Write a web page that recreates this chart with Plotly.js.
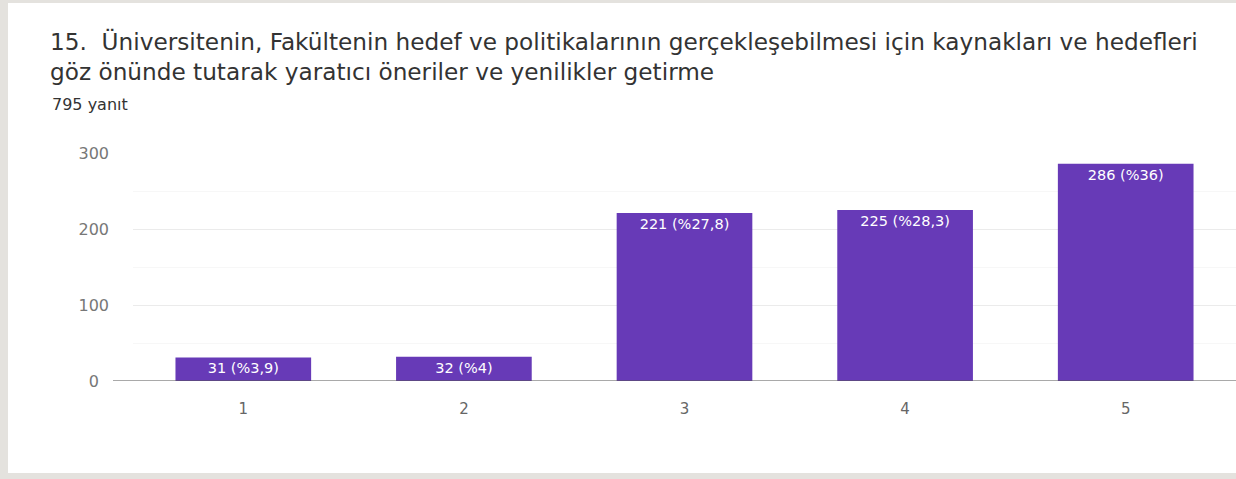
<!DOCTYPE html>
<html>
<head>
<meta charset="utf-8">
<script src="https://cdn.plot.ly/plotly-3.0.1.min.js"></script>
<style>
  html, body { margin: 0; padding: 0; }
  body { width: 1236px; height: 479px; background: #e4e2de; position: relative; overflow: hidden; }
  #chart { position: absolute; left: 8px; top: 3px; width: 1228px; height: 470px; background: #fff; }
</style>
</head>
<body>
<div id="chart"></div>
<script>
const categories = ["1", "2", "3", "4", "5"];
const counts = [31, 32, 221, 225, 286];
const percents = ["3,9", "4", "27,8", "28,3", "36"];
const yTickVals = [0, 100, 200, 300];
const yTickText = ["0\u2007", "100", "200", "300"];
const titleLine1 = "15.\u00a0 Üniversitenin, Fakültenin hedef ve politikalarının gerçekleşebilmesi için kaynakları ve hedefleri";
const titleLine2 = "göz önünde tutarak yaratıcı öneriler ve yenilikler getirme";
const responsesText = "795 yanıt";

const barLabels = counts.map((c, i) => c + " (%" + percents[i] + ")");
const FONT = "DejaVu Sans, Arial, sans-serif";

const trace = {
  type: "bar",
  x: categories,
  y: counts,
  text: barLabels,
  textposition: "inside",
  insidetextanchor: "end",
  constraintext: "none",
  textfont: { family: FONT, size: 14.5, color: "#ffffff" },
  marker: { color: "#673ab7", line: { width: 0 } },
  hoverinfo: "x+y",
  cliponaxis: false
};

const W = 1228, H = 470;
const layout = {
  width: W,
  height: H,
  margin: { l: 125, r: 0, t: 150, b: 92 },
  paper_bgcolor: "#ffffff",
  plot_bgcolor: "#ffffff",
  bargap: 0.385,
  showlegend: false,
  title: {
    text: titleLine1 + "<br>" + titleLine2,
    x: 42 / W,
    xanchor: "left",
    xref: "container",
    y: 1 - 47 / H,
    yanchor: "top",
    yref: "container",
    font: { family: FONT, size: 23.2, color: "#333333" }
  },
  annotations: [{
    text: responsesText,
    xref: "paper", yref: "paper",
    x: (42 - 125) / (W - 125), xanchor: "left",
    y: 1 + (150 - 90) / (H - 150 - 92), yanchor: "top",
    showarrow: false,
    font: { family: FONT, size: 16, color: "#333333" }
  }],
  xaxis: {
    type: "category",
    range: [-0.5, 4.5],
    showgrid: false,
    showline: false,
    zeroline: false,
    ticks: "",
    tickfont: { family: FONT, size: 15, color: "#666666" },
    ticklabelstandoff: 17,
    fixedrange: true
  },
  yaxis: {
    range: [0, 300],
    tickvals: yTickVals,
    ticktext: yTickText,
    showgrid: true,
    gridcolor: "#ebebeb",
    gridwidth: 1,
    minor: { dtick: 50, showgrid: true, gridcolor: "#f7f7f7", gridwidth: 1 },
    zeroline: false,
    showline: false,
    ticks: "",
    tickfont: { family: FONT, size: 16, color: "#777777" },
    ticklabelstandoff: 23,
    fixedrange: true
  },
  shapes: [{
    type: "line",
    xref: "paper", yref: "y",
    x0: (105 - 125) / (W - 125), x1: 1,
    y0: 0, y1: 0,
    line: { color: "#555555", width: 1.2 },
    layer: "above"
  }]
};

Plotly.newPlot("chart", [trace], layout, { displayModeBar: false, staticPlot: true });
</script>
</body>
</html>
